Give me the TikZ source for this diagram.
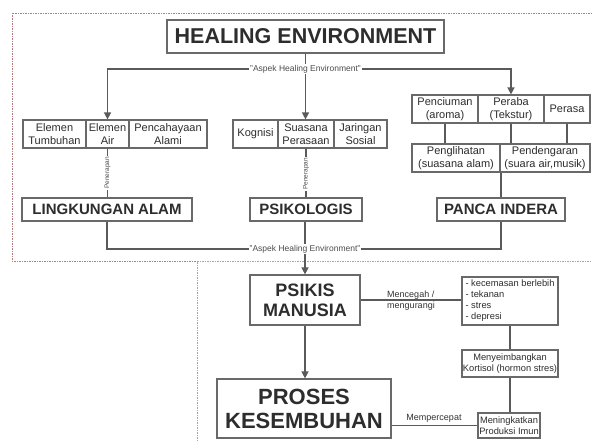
\documentclass[tikz,border=0pt]{standalone}
\usepackage{fontspec}
\setmainfont{Liberation Sans}
\usetikzlibrary{arrows.meta}
\definecolor{boxc}{RGB}{105,105,105}
\definecolor{linec}{RGB}{90,90,90}
\definecolor{txtc}{RGB}{45,45,45}
\definecolor{redd}{RGB}{185,125,125}
\definecolor{grnd}{RGB}{150,175,150}
\begin{document}
\begin{tikzpicture}[x=1pt,y=-1pt,
  box/.style={draw=boxc, line width=1.2pt, text=txtc, inner sep=0pt, align=center},
  cell/.style={box, font=\fontsize{11}{12.5}\selectfont},
  mid/.style={box, font=\bfseries\fontsize{15}{17}\selectfont, minimum height=23},
  small/.style={box, font=\fontsize{9.3}{11}\selectfont},
  conn/.style={draw=linec, line width=1.4pt},
  arr/.style={conn, -{Triangle[width=7pt,length=7pt]}},
  tag/.style={fill=white, inner sep=1pt, font=\fontsize{8.5}{9}\selectfont, text=gray!60!black},
  vtag/.style={fill=white, inner sep=1pt, rotate=90, font=\fontsize{6.5}{7}\selectfont, text=gray!60!black},
  lbl/.style={font=\fontsize{9}{11}\selectfont, text=gray!40!black, inner sep=0pt},
]
\useasboundingbox (0,0) rectangle (592,441);
\fill[white] (0,0) rectangle (592,441);
% frames
\draw[redd, dash pattern=on 1.5pt off 1pt, line width=0.8pt] (592,13) -- (12,13) -- (12,261) -- (197,261);
\draw[grnd, dash pattern=on 1.5pt off 1pt, line width=1pt] (197,441) -- (197,261) -- (592,261);

% title
\node[box, font=\bfseries\fontsize{21.5}{24}\selectfont, minimum width=277, minimum height=33] (he) at (305.5,36.5) {HEALING ENVIRONMENT};

% group 1
\node[cell, minimum width=63, minimum height=28] (tumb) at (54.5,134) {Elemen\\Tumbuhan};
\node[cell, minimum width=43, minimum height=28] (air) at (107.5,134) {Elemen\\Air};
\node[cell, minimum width=78, minimum height=28] (cahaya) at (168,134) {Pencahayaan\\Alami};
% group 2
\node[cell, minimum width=45, minimum height=28] (kog) at (255.5,134) {Kognisi};
\node[cell, minimum width=56, minimum height=28] (suasana) at (306,134) {Suasana\\Perasaan};
\node[cell, minimum width=53, minimum height=28] (jaringan) at (360.5,134) {Jaringan\\Sosial};
% group 3
\node[cell, minimum width=66, minimum height=28] (pencium) at (445,109) {Penciuman\\(aroma)};
\node[cell, minimum width=66, minimum height=28] (peraba) at (511,109) {Peraba\\(Tekstur)};
\node[cell, minimum width=46, minimum height=28] (perasa) at (567,109) {Perasa};
\node[cell, minimum width=88, minimum height=28] (penglihat) at (456,158) {Penglihatan\\(suasana alam)};
\node[cell, minimum width=90, minimum height=28] (pendengar) at (545,158) {Pendengaran\\(suara air,musik)};

% middle boxes
\node[mid, minimum width=170] (lingk) at (107,209.5) {LINGKUNGAN ALAM};
\node[mid, minimum width=112] (psikol) at (306,209.5) {PSIKOLOGIS};
\node[mid, minimum width=128] (panca) at (501,209.5) {PANCA INDERA};

% lower part
\node[box, font=\bfseries\fontsize{18}{20}\selectfont, minimum width=110, minimum height=50] (psikis) at (305,300) {PSIKIS\\MANUSIA};
\node[box, font=\bfseries\fontsize{22}{24}\selectfont, minimum width=174, minimum height=59] (proses) at (304,408.5) {PROSES\\KESEMBUHAN};
\node[small, align=left, minimum width=96, minimum height=48] (list) at (510,301) {- kecemasan berlebih\\- tekanan\\- stres\\- depresi};
\node[small, minimum width=96, minimum height=27] (menye) at (510,363.5) {Menyeimbangkan\\Kortisol (hormon stres)};
\node[small, minimum width=62, minimum height=25] (mening) at (509,425.5) {Meningkatkan\\Produksi Imun};

% connectors top
\coordinate (split1) at (305.5,69);
\draw[arr] (split1) -| (air.north);
\draw[arr] (split1) -| (peraba.north);
\draw[arr] (he.south) -- (he.south |- suasana.north);
\node[tag] at (split1) {"Aspek Healing Environment"};

% group 3 inner connectors
\draw[conn] (pencium.south) -- (pencium.south |- penglihat.north);
\draw[conn] (peraba.south) -- (peraba.south |- pendengar.north);
\draw[conn] (perasa.south) -- (perasa.south |- pendengar.north);
\draw[conn] (panca.north |- penglihat.south) -- (panca.north);

% group to middle
\draw[conn] (air.south) -- (air.south |- lingk.north);
\draw[conn] (suasana.south) -- (suasana.south |- psikol.north);
\node[vtag] at (107.5,173) {Penerapan};
\node[vtag] at (306,174) {Penerapan};

% bottom collector
\coordinate (split2) at (305,249);
\draw[conn] (lingk.south) -- (lingk.south |- split2) -- (panca.south |- split2) -- (panca.south);
\draw[arr] (psikol.south -| psikis.north) -- (psikis.north);
\node[tag] at (split2) {"Aspek Healing Environment"};

% lower connectors
\draw[arr] (psikis.south) -- (psikis.south |- proses.north);
\draw[conn] (psikis.east) -- (psikis.east -| list.west);
\node[lbl, align=left] at (411,300.5) {Mencegah /\\mengurangi};
\draw[conn] (list.south) -- (menye.north);
\draw[conn] (menye.south) -- (menye.south |- mening.north);
\draw[conn] (mening.west -| proses.east) -- (mening.west);
\node[lbl, anchor=south] at (434,423) {Mempercepat};
\end{tikzpicture}
\end{document}
